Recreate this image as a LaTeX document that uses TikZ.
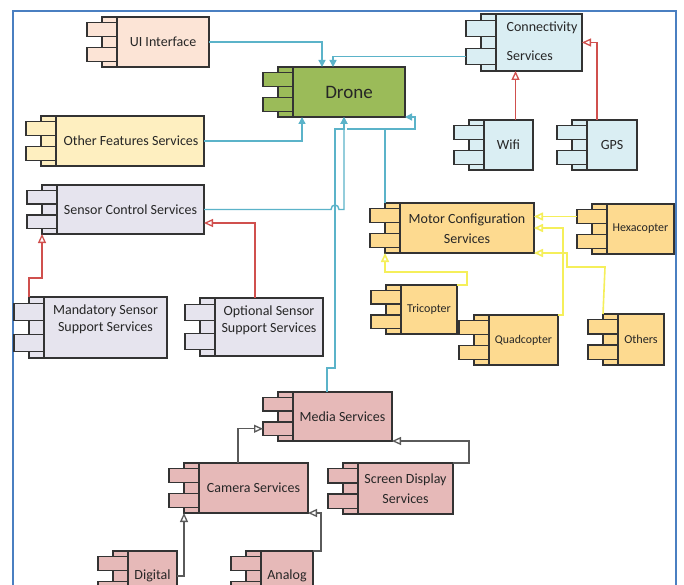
\documentclass[tikz,border=0pt]{standalone}
\usepackage{fontspec}
\setmainfont{Carlito}
\usetikzlibrary{arrows.meta}
\definecolor{framecol}{HTML}{4A7FC1}
\definecolor{tealcol}{HTML}{5BB3C9}
\definecolor{redcol}{HTML}{D0504E}
\definecolor{yelcol}{HTML}{F5EF5A}
\definecolor{graycol}{HTML}{5A5A5A}
\definecolor{boxline}{HTML}{333333}
\definecolor{cpeach}{HTML}{FCE4D6}
\definecolor{cgreen}{HTML}{9BBB59}
\definecolor{cblue}{HTML}{DAEEF3}
\definecolor{ccream}{HTML}{FEEFC0}
\definecolor{clav}{HTML}{E6E4EE}
\definecolor{cmotor}{HTML}{FDDA90}
\definecolor{crose}{HTML}{E6B9B8}
\tikzset{
  cbox/.style={draw=boxline, line width=1.3pt, outer sep=0pt, inner sep=0pt},
  ctext/.style={inner sep=0pt, align=center, text=black!85, font=\fontsize{14}{17}\selectfont},
  tl/.style={draw=tealcol, line width=1.4pt, -{Triangle[length=7pt,width=7pt]}},
  tlplain/.style={draw=tealcol, line width=1.4pt},
  rd/.style={draw=redcol, line width=1.3pt, -{Triangle[open,length=9pt,width=8pt,fill=white]}},
  yl/.style={draw=yelcol, line width=1.6pt, -{Triangle[open,length=9pt,width=8pt,fill=white]}},
  gr/.style={draw=graycol, line width=1.3pt, -{Triangle[open,length=9pt,width=8pt,fill=white]}},
}
% name, x1, y1, x2, y2, fill style, dx, dy, text
\newcommand{\comp}[9]{%
  \path[cbox,#6] ({#2-15},#3) rectangle (#2,#5);
  \path[cbox,#6] ({#2-30},{#3+0.11*(#5-#3)}) rectangle (#2,{#3+0.39*(#5-#3)});
  \path[cbox,#6] ({#2-30},{#5-0.39*(#5-#3)}) rectangle (#2,{#5-0.11*(#5-#3)});
  \node[cbox,#6,minimum width={(#4-#2)*1pt},minimum height={(#5-#3)*1pt}] (#1) at ({(#2+#4)/2},{(#3+#5)/2}) {};
  \node[ctext] (#1-txt) at ({(#2+#4)/2+#7},{(#3+#5)/2+#8}) {#9};
  \coordinate (#1-nw) at ({#2-15},#3);
  \coordinate (#1-sw) at ({#2-15},#5);
  \coordinate (#1-t1) at ({#2-30},{#3+0.25*(#5-#3)});
  \coordinate (#1-t2) at ({#2-30},{#5-0.25*(#5-#3)});
}
\begin{document}
\begin{tikzpicture}[x=1pt,y=-1pt]
\useasboundingbox (0,0) rectangle (684,585);
\clip (0,0) rectangle (684,585);
\fill[white] (0,0) rectangle (684,585);
\draw[framecol, line width=2.8pt] (13,11) rectangle (676,620);

% components
\comp{ui}{117}{17}{209}{67}{fill=cpeach}{0}{0}{UI Interface}
\comp{drone}{293}{67}{405}{117}{fill=cgreen}{0}{0}{\fontsize{19}{22}\selectfont Drone}
\comp{conn}{496}{14}{582}{71}{fill=cblue}{3}{0}{\begin{tabular}{@{}l@{}}Connectivity\\[12pt]Services\end{tabular}}
\comp{wifi}{484}{120}{533}{170}{fill=cblue}{0}{0}{Wifi}
\comp{gps}{587}{120}{637}{170}{fill=cblue}{0}{0}{GPS}
\comp{other}{56}{116}{204}{166}{fill=ccream}{1}{0}{Other Features Services}
\comp{sensor}{57}{185}{204}{234}{fill=clav}{0}{0}{Sensor Control Services}
\comp{mand}{44}{297}{167}{358}{fill=clav}{0}{-8}{Mandatory Sensor\\Support Services}
\comp{opt}{215}{298}{323}{356}{fill=clav}{0}{-7}{Optional Sensor\\Support Services}
\comp{motor}{400}{203}{534}{253}{fill=cmotor}{0}{1}{Motor Configuration\\[3pt]Services}
\comp{hex}{607}{204}{674}{254}{fill=cmotor}{0}{0}{\fontsize{12}{14}\selectfont Hexacopter}
\comp{tri}{401}{285}{457}{334}{fill=cmotor}{0}{0}{\fontsize{12}{14}\selectfont Tricopter}
\comp{quad}{489}{315}{558}{365}{fill=cmotor}{0}{0}{\fontsize{11.8}{14}\selectfont Quadcopter}
\comp{others}{618}{314}{664}{365}{fill=cmotor}{0}{0}{\fontsize{12.2}{14}\selectfont Others}
\comp{media}{293}{392}{392}{441}{fill=crose}{0}{0}{Media Services}
\comp{cam}{199}{463}{308}{513}{fill=crose}{0}{0}{Camera Services}
\comp{screen}{358}{463}{453}{514}{fill=crose}{0}{0}{Screen Display\\[3pt]Services}
\comp{digital}{128}{551}{177}{601}{fill=crose}{0}{0}{Digital}
\comp{analog}{261}{551}{313}{601}{fill=crose}{0}{0}{Analog}

% teal connectors to Drone
\draw[tl] (ui.east) -| ([xshift=-27pt]drone.north);
\draw[tl] (conn-t2) -| ([xshift=-16pt]drone.north);
\draw[tl] (other.east) -| ([xshift=-47pt]drone.south);
\draw[tl] (sensor.east) -- (331,209.5) .. controls (331,203.5) and (339,203.5) .. (339,209.5) -- (344,209.5) -- ([xshift=-5pt]drone.south);
\draw[tl] ([xshift=-15.5pt]media.north) -- (327,368) -- (335,368) -- (335,129) -- (344,129) -- ([xshift=-5pt]drone.south);
\draw[tl] (motor-nw) |- (415,129) |- (drone.south east);
\draw[tlplain] (386,129) -- (347,129);

% red connectors
\draw[rd] ([xshift=7pt]wifi.north) -- ([xshift=7pt]wifi.north |- conn.south);
\draw[rd] ([xshift=-15pt]gps.north) |- (conn.east);
\draw[rd] (mand-nw) -- ++(0,-19) -| (sensor-sw);
\draw[rd] ([xshift=-14pt]opt.north) |- ([yshift=-13.5pt]sensor.east);

% yellow connectors
\draw[yl] (hex-t1) -- (hex-t1 -| motor.east);
\draw[yl] (quad.north east) -- ++(5,0) |- (motor.east);
\draw[yl] (others-nw) -- (605,267) -- (567,267) |- (motor.south east);
\draw[yl] (tri.north east) -- ++(10,0) -- ++(0,-13) -| (motor-sw);

% gray connectors
\draw[gr] ([xshift=-15.5pt]cam.north) |- (media-t2);
\draw[gr] (screen.north east) -- ++(16,0) |- (media.south east);
\draw[gr] (digital.east) -| (cam-sw);
\draw[gr] (analog.north east) -- ++(8,0) |- (cam.south east);
\end{tikzpicture}
\end{document}
